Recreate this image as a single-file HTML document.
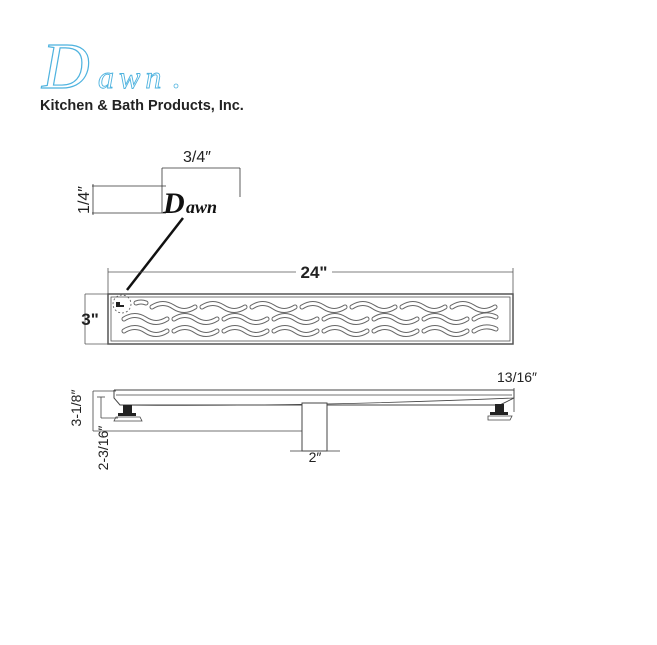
<!DOCTYPE html>
<html><head><style>body{margin:0;background:#fff}svg{display:block}</style></head><body>
<svg width="657" height="645" viewBox="0 0 657 645" xmlns="http://www.w3.org/2000/svg" font-family="Liberation Sans, sans-serif">
<rect width="657" height="645" fill="#fff"/>
<!-- logo -->
<text x="42" y="88" font-family="Liberation Serif, serif" font-style="italic" font-size="66" fill="none" stroke="#4fb3df" stroke-width="1.2">D</text>
<text x="98" y="88" font-family="Liberation Serif, serif" font-style="italic" font-size="32" fill="none" stroke="#4fb3df" stroke-width="0.9" letter-spacing="5">awn</text>
<circle cx="176" cy="86" r="2" fill="none" stroke="#4fb3df" stroke-width="0.8"/>
<text x="40" y="110" font-size="14.5" font-weight="bold" fill="#222">Kitchen &amp; Bath Products, Inc.</text>
<!-- detail -->
<g stroke="#333" stroke-width="0.8" fill="none">
<line x1="92" y1="186" x2="166" y2="186"/><line x1="92" y1="213" x2="166" y2="213"/>
<line x1="93" y1="184" x2="93" y2="215"/>
<line x1="162" y1="168" x2="162" y2="213"/><line x1="240" y1="168" x2="240" y2="197"/>
<line x1="162" y1="168" x2="240" y2="168"/>
</g>
<text x="183" y="162" font-size="16" fill="#222">3/4″</text>
<text transform="translate(89,200) rotate(-90)" text-anchor="middle" font-size="16" fill="#222">1/4″</text>
<text x="163" y="213" font-family="Liberation Serif, serif" font-style="italic" font-weight="bold" font-size="30" fill="#111">D</text>
<text x="186" y="213" font-family="Liberation Serif, serif" font-style="italic" font-weight="bold" font-size="18" fill="#111">awn</text>
<line x1="183" y1="218" x2="127" y2="290" stroke="#111" stroke-width="2.5"/>
<!-- top view -->
<g stroke="#555" fill="none">
<line x1="108" y1="272" x2="296" y2="272" stroke-width="0.8"/><line x1="332" y1="272" x2="513" y2="272" stroke-width="0.8"/>
<line x1="108" y1="268" x2="108" y2="294" stroke-width="0.8"/><line x1="513" y1="268" x2="513" y2="294" stroke-width="0.8"/>
<line x1="85" y1="294" x2="85" y2="344" stroke-width="0.8"/>
<line x1="85" y1="294" x2="108" y2="294" stroke-width="0.8"/><line x1="85" y1="344" x2="108" y2="344" stroke-width="0.8"/>
<rect x="108" y="294" width="405" height="50" stroke-width="1.5"/>
<rect x="111" y="297" width="399" height="44" stroke-width="0.8"/>
<circle cx="122" cy="304" r="9" stroke-dasharray="2,2" stroke-width="0.8"/>
</g>
<text x="314" y="278" text-anchor="middle" font-size="17" font-weight="bold" fill="#222">24"</text>
<text x="90" y="325" text-anchor="middle" font-size="17" font-weight="bold" fill="#222">3"</text>
<rect x="116" y="302" width="4" height="4" fill="#222"/><rect x="116" y="305" width="8" height="2" fill="#222"/>
<defs>
<path id="w" d="M0,2 q11,-7 21.5,0 t21.5,0" />
<g id="rows">
<path d="M136,303 q5,-2 10,0"/>
<use href="#w" x="152" y="305"/><use href="#w" x="202" y="305"/><use href="#w" x="252" y="305"/><use href="#w" x="302" y="305"/><use href="#w" x="352" y="305"/><use href="#w" x="402" y="305"/><use href="#w" x="452" y="305"/>
<use href="#w" x="124" y="317"/><use href="#w" x="174" y="317"/><use href="#w" x="224" y="317"/><use href="#w" x="274" y="317"/><use href="#w" x="324" y="317"/><use href="#w" x="374" y="317"/><use href="#w" x="424" y="317"/>
<path d="M474,319 q11,-7 22,-2"/>
<use href="#w" x="124" y="329"/><use href="#w" x="174" y="329"/><use href="#w" x="224" y="329"/><use href="#w" x="274" y="329"/><use href="#w" x="324" y="329"/><use href="#w" x="374" y="329"/><use href="#w" x="424" y="329"/>
<path d="M474,331 q11,-7 22,-2"/>
</g>
</defs>
<g fill="none" stroke-linecap="round">
<use href="#rows" stroke="#666" stroke-width="5"/>
<use href="#rows" stroke="#fff" stroke-width="3"/>
</g>
<!-- side view -->
<g stroke="#444" fill="none" stroke-width="0.8">
<line x1="93" y1="391" x2="116" y2="391"/><line x1="93" y1="391" x2="93" y2="431"/>
<line x1="93" y1="431" x2="320" y2="431"/>
<line x1="101" y1="397" x2="101" y2="418"/><line x1="101" y1="418" x2="118" y2="418"/><line x1="97" y1="397" x2="105" y2="397"/>
<polyline points="114,390 514,390 514,398 500,405 120,405 114,398 114,390" stroke-width="1"/>
<line x1="116" y1="395" x2="512" y2="395"/>
<path d="M120,405 Q300,407 514,398" />
<rect x="302" y="403" width="25" height="48" fill="#fff" stroke-width="1"/>
<line x1="290" y1="451" x2="302" y2="451"/><line x1="327" y1="451" x2="340" y2="451"/>
<line x1="514" y1="388" x2="514" y2="412"/>
</g>
<g fill="#222">
<rect x="123" y="405" width="9" height="8"/><rect x="118" y="413" width="18" height="3"/>
<rect x="495" y="404" width="9" height="8"/><rect x="490" y="412" width="18" height="3"/>
</g>
<g fill="none" stroke="#444" stroke-width="0.8">
<path d="M116,417 h24 l2,4 h-28 z"/><path d="M488,416 h24 l-2,4 h-22 z"/>
</g>
<text x="315" y="462" text-anchor="middle" font-size="14" fill="#222">2″</text>
<text x="517" y="382" text-anchor="middle" font-size="14" fill="#222">13/16″</text>
<text transform="translate(81,408) rotate(-90)" text-anchor="middle" font-size="14" fill="#222">3-1/8″</text>
<text transform="translate(108,448) rotate(-90)" text-anchor="middle" font-size="14" fill="#222">2-3/16″</text>
</svg>
</body></html>
